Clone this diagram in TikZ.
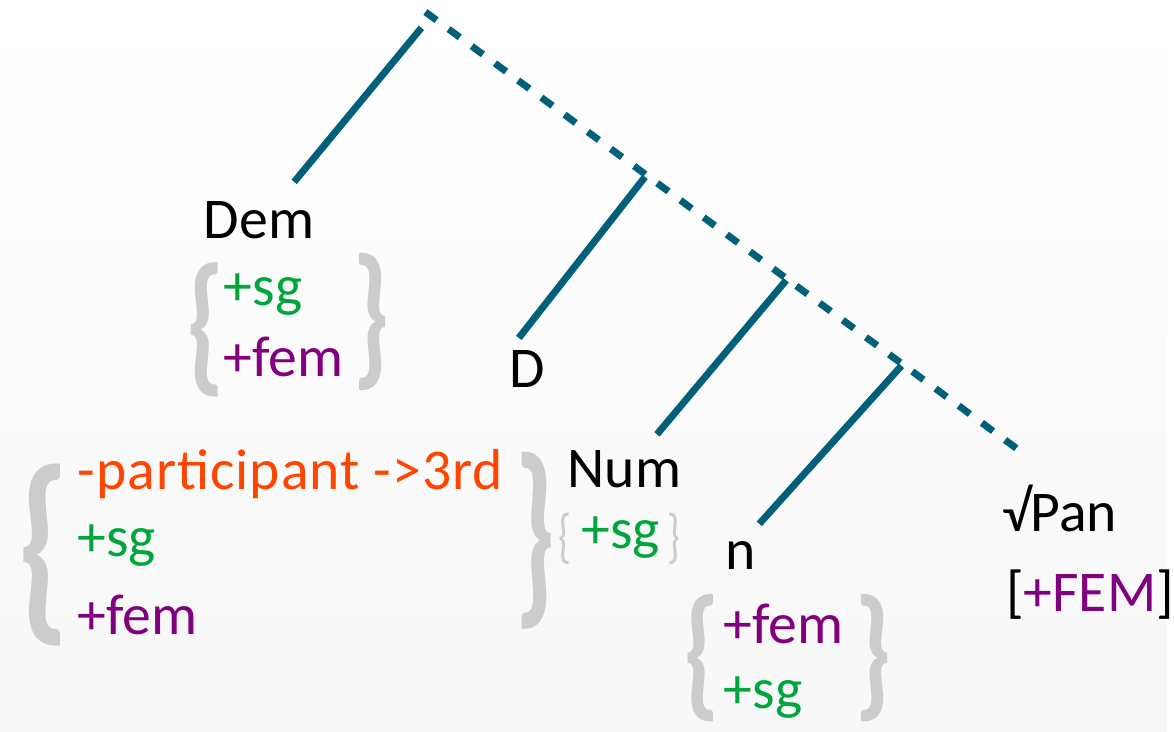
\documentclass[tikz,border=0pt]{standalone}
\usepackage{fontspec}
\setmainfont{Carlito}
\usepackage{graphicx}
\definecolor{treeline}{RGB}{0,96,122}
\definecolor{featgreen}{RGB}{0,166,60}
\definecolor{featpurple}{RGB}{128,0,128}
\definecolor{featorange}{RGB}{255,69,0}
\definecolor{bracegray}{RGB}{204,204,204}

\begin{document}
\begin{tikzpicture}[x=1pt, y=-1pt,
    branch/.style={draw=treeline, line width=7pt},
    spine/.style={branch, dash pattern=on 14pt off 15pt},
    lbl/.style={anchor=base west, inner sep=0pt, font=\fontsize{58}{62}\selectfont},
    sg/.style={lbl, text=featgreen},
    fem/.style={lbl, text=featpurple},
    pers/.style={lbl, text=featorange, font=\fontsize{58}{62}\selectfont\addfontfeature{LetterSpace=1.7}},
    brc/.style={inner sep=0pt, text=bracegray, font=\bfseries},
    smallbrc/.style={inner sep=0pt, text=bracegray},
  ]
  \shade[top color=white, bottom color=black!3] (0,0) rectangle (1174,736);
  % spine and branch points
  \coordinate (top) at (428,12);
  \coordinate (foot) at (1032,458);
  \coordinate (jd) at (649,178);
  \coordinate (jnum) at (791,282);
  \coordinate (jn) at (907,368);
  \draw[spine] (top) -- (foot);
  % Dem
  \node[lbl] (dem) at (205,240) {Dem};
  \node[sg] (demsg) at (225,307) {+sg};
  \node[fem] (demfem) at (225,379) {+fem};
  \node[brc] (demlb) at (207,332) {\resizebox*{39pt}{135pt}{\{}};
  \node[brc] (demrb) at (374,324) {\resizebox*{38pt}{138pt}{\}}};
  \coordinate (demtop) at (424,28);
  \coordinate (demend) at (296,183);
  \draw[branch] (demtop) -- (demend);
  % D
  \node[lbl] (d) at (512,390) {D};
  \coordinate (dend) at (522,340);
  \draw[branch] (jd) -- (dend);
  % Num
  \node[lbl] (num) at (571,490) {Num};
  \node[sg] (numsg) at (585,552) {+sg};
  \node[smallbrc] (numlb) at (568,542) {\resizebox*{13pt}{52pt}{\{}};
  \node[smallbrc] (numrb) at (678,542) {\resizebox*{13pt}{52pt}{\}}};
  \coordinate (numend) at (661,437);
  \draw[branch] (jnum) -- (numend);
  % features of D
  \node[pers] (dpers) at (78,492) {-participant ->3rd};
  \node[sg] (dsg) at (78,560) {+sg};
  \node[fem] (dfem) at (78,638) {+fem};
  \node[brc] (dlb) at (44,558) {\resizebox*{53pt}{183pt}{\{}};
  \node[brc] (drb) at (539,544) {\resizebox*{42pt}{178pt}{\}}};
  % n
  \node[lbl] (n) at (730,573) {n};
  \node[fem] (nfem) at (728,647) {+fem};
  \node[sg] (nsg) at (728,713) {+sg};
  \node[brc] (nlb) at (706,662) {\resizebox*{37pt}{128pt}{\{}};
  \node[brc] (nrb) at (879,662) {\resizebox*{38pt}{128pt}{\}}};
  \coordinate (nend) at (764,527);
  \draw[branch] (jn) -- (nend);
  % root
  \node[lbl] (pan) at (1008,535) {√Pan};
  \node[lbl] (panfeat) at (1012,615) {[\textcolor{featpurple}{+FEM}]};
\end{tikzpicture}
\end{document}
